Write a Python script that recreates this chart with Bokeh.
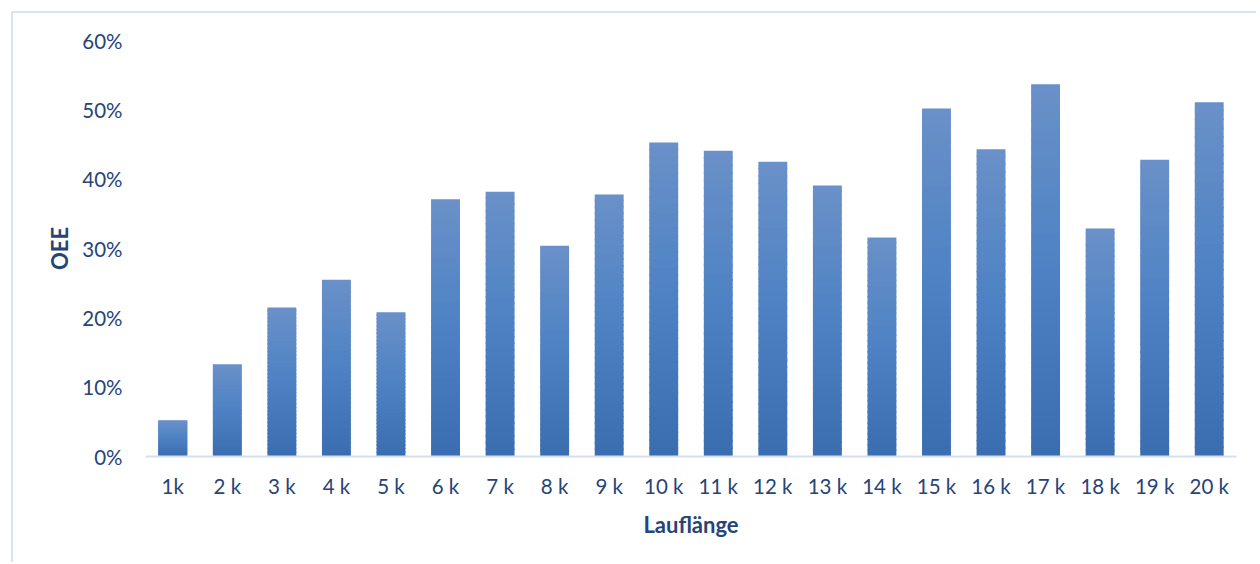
from bokeh.plotting import figure
from bokeh.models import Range1d, FactorRange, NumeralTickFormatter, FixedTicker
from bokeh.embed import file_html
from bokeh.resources import INLINE

categories = ["1k", "2 k", "3 k", "4 k", "5 k", "6 k", "7 k", "8 k", "9 k", "10 k",
              "11 k", "12 k", "13 k", "14 k", "15 k", "16 k", "17 k", "18 k", "19 k", "20 k"]
oee = [0.052, 0.133, 0.215, 0.255, 0.208, 0.371, 0.382, 0.304, 0.378, 0.453,
       0.441, 0.425, 0.391, 0.316, 0.502, 0.443, 0.537, 0.329, 0.428, 0.511]
y_ticks = [0, 0.1, 0.2, 0.3, 0.4, 0.5, 0.6]

TEXT = "#264478"
FONT = "Lato"

p = figure(x_range=FactorRange(*categories), y_range=Range1d(0, 0.6),
           frame_width=1091, frame_height=416,
           min_border_left=132, min_border_right=20, min_border_top=27, min_border_bottom=106,
           output_backend="svg", toolbar_location=None)
p.styles = {"border-left": "2px solid #dae3f3", "border-top": "2px solid #dae3f3",
            "margin-left": "11px", "margin-top": "11px"}
p.outline_line_color = None
p.xgrid.grid_line_color = None
p.ygrid.grid_line_color = None

def hex2rgb(h):
    return tuple(int(h[i:i + 2], 16) for i in (1, 3, 5))

stops = [(0.0, hex2rgb("#3b6daf")), (0.5, hex2rgb("#4d82c4")), (1.0, hex2rgb("#6a90c8"))]

def grad(t):
    for (t0, c0), (t1, c1) in zip(stops[:-1], stops[1:]):
        if t <= t1:
            f = (t - t0) / (t1 - t0)
            return "#%02x%02x%02x" % tuple(int(round(a + (b - a) * f)) for a, b in zip(c0, c1))
    return "#%02x%02x%02x" % stops[-1][1]

N = 40
for i in range(N):
    bottoms = [v * i / N for v in oee]
    tops = [min(v, v * (i + 1) / N + 0.002) for v in oee]
    p.vbar(x=categories, top=tops, bottom=bottoms, width=0.53,
           fill_color=grad((i + 0.5) / N), line_color=None)

# y axis
p.yaxis.ticker = FixedTicker(ticks=y_ticks)
p.yaxis.formatter = NumeralTickFormatter(format="0%")
p.yaxis.axis_line_color = None
p.yaxis.major_tick_line_color = None
p.yaxis.minor_tick_line_color = None
p.yaxis.major_label_standoff = 17
p.yaxis.axis_label = "OEE"
p.yaxis.axis_label_standoff = 6

# x axis
p.xaxis.axis_line_color = "#d6e0f2"
p.xaxis.axis_line_width = 2
p.xaxis.major_tick_line_color = None
p.xaxis.minor_tick_line_color = None
p.xaxis.major_label_standoff = 11
p.xaxis.axis_label = "Lauflänge"
p.xaxis.axis_label_standoff = 10

for ax in (p.xaxis, p.yaxis):
    ax.major_label_text_font = FONT
    ax.major_label_text_font_size = "20.5px"
    ax.major_label_text_color = TEXT
    ax.axis_label_text_font = FONT
    ax.axis_label_text_font_size = "22px"
    ax.axis_label_text_font_style = "bold"
    ax.axis_label_text_color = TEXT

open("out.html", "w").write(file_html(p, INLINE))
